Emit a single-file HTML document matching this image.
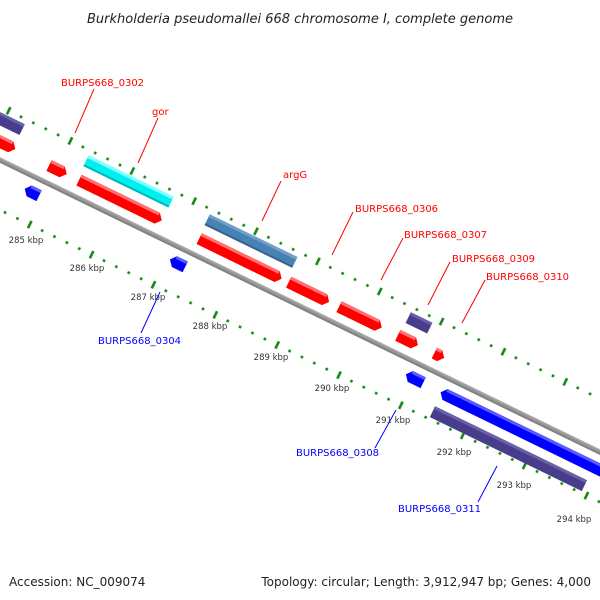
<!DOCTYPE html>
<html><head><meta charset="utf-8"><style>
html,body{margin:0;padding:0;background:#fff;}
svg{display:block;}
text{font-family:"DejaVu Sans","Liberation Sans",sans-serif;}
</style></head><body>
<svg width="600" height="600" viewBox="0 0 600 600" xmlns="http://www.w3.org/2000/svg">
<defs>
<pattern id="tkA" patternUnits="userSpaceOnUse" x="20.6" y="-52" width="68.8" height="8">
<rect x="5.6" y="2.7" width="2.6" height="2.6" fill="#118811"/>
<rect x="19.4" y="2.7" width="2.6" height="2.6" fill="#118811"/>
<rect x="33.1" y="0" width="2.6" height="8" fill="#118811"/>
<rect x="46.9" y="2.7" width="2.6" height="2.6" fill="#118811"/>
<rect x="60.6" y="2.7" width="2.6" height="2.6" fill="#118811"/>
</pattern>
<pattern id="tkB" patternUnits="userSpaceOnUse" x="20.6" y="41" width="68.8" height="8">
<rect x="5.6" y="2.7" width="2.6" height="2.6" fill="#118811"/>
<rect x="19.4" y="2.7" width="2.6" height="2.6" fill="#118811"/>
<rect x="33.1" y="0" width="2.6" height="8" fill="#118811"/>
<rect x="46.9" y="2.7" width="2.6" height="2.6" fill="#118811"/>
<rect x="60.6" y="2.7" width="2.6" height="2.6" fill="#118811"/>
</pattern>
<linearGradient id="gb" x1="0" y1="0" x2="0" y2="1"><stop offset="0" stop-color="#b0b0b0"/><stop offset="1" stop-color="#777"/></linearGradient>
</defs>
<text x="300" y="23" font-size="13" font-style="italic" text-anchor="middle" fill="#222">Burkholderia pseudomallei 668 chromosome I, complete genome</text>

<g transform="translate(0,160) rotate(25.96)">
<rect x="-60" y="-52" width="800" height="8" fill="url(#tkA)"/>
<rect x="-60" y="41" width="800" height="8" fill="url(#tkB)"/>
<rect x="-60" y="-2.6" width="800" height="5.2" fill="url(#gb)"/>

<g>
<rect x="-40" y="-43" width="46.6" height="12" fill="#483d8b"/><rect x="-40" y="-43" width="46.6" height="3" fill="#6a60a8"/>
<rect x="77.7" y="-43" width="94.5" height="12" fill="#00f0f0"/><rect x="77.7" y="-43" width="94.5" height="3" fill="#80ffff"/><rect x="77.7" y="-33" width="94.5" height="2" fill="#00b8b8"/>
<rect x="212.4" y="-43" width="97.5" height="12" fill="#4682b4"/><rect x="212.4" y="-43" width="97.5" height="3" fill="#6fa0c8"/><rect x="212.4" y="-33" width="97.5" height="2" fill="#36648c"/>
<rect x="436" y="-43" width="24" height="12" fill="#483d8b"/><rect x="436" y="-43" width="24" height="3" fill="#6a60a8"/>
</g>
<g fill="#ff0000">
<polygon points="-40,-22.5 4,-22.5 9,-16.5 4,-10.5 -40,-10.5"/>
<polygon points="46.5,-22.5 61,-22.5 66.3,-16.5 61,-10.5 46.5,-10.5"/>
<polygon points="79.8,-22.5 166.9,-22.5 171.9,-16.5 166.9,-10.5 79.8,-10.5"/>
<polygon points="213.5,-22.5 300.2,-22.5 305.2,-16.5 300.2,-10.5 213.5,-10.5"/>
<polygon points="313,-22.5 353,-22.5 358,-16.5 353,-10.5 313,-10.5"/>
<polygon points="369,-22.5 411.6,-22.5 416.6,-16.5 411.6,-10.5 369,-10.5"/>
<polygon points="434.4,-22.5 451.8,-22.5 456.8,-16.5 451.8,-10.5 434.4,-10.5"/>
<polygon points="475,-22.5 481,-22.5 486,-16.5 481,-10.5 475,-10.5"/>
</g>
<g fill="#ff7070">
<rect x="-40" y="-22.5" width="44" height="3"/>
<rect x="46.5" y="-22.5" width="14.5" height="3"/>
<rect x="79.8" y="-22.5" width="87.1" height="3"/>
<rect x="213.5" y="-22.5" width="86.7" height="3"/>
<rect x="313" y="-22.5" width="40" height="3"/>
<rect x="369" y="-22.5" width="42.6" height="3"/>
<rect x="434.4" y="-22.5" width="17.4" height="3"/>
<rect x="475" y="-22.5" width="6" height="3"/>
</g>
<g fill="#0000ff">
<polygon points="34.8,15 39.8,9 50.8,9 50.8,21 39.8,21"/>
<polygon points="196.3,15 201.3,9 213.3,9 213.3,21 201.3,21"/>
<polygon points="458.7,15 463.7,9 478,9 478,21 463.7,21"/>
<polygon points="497.8,16 502.8,10 700,10 700,22 502.8,22"/>
</g>
<g fill="#5a5aff">
<rect x="39.8" y="9" width="11" height="3"/>
<rect x="201.3" y="9" width="12" height="3"/>
<rect x="463.7" y="9" width="14.3" height="3"/>
<rect x="502.8" y="10" width="197" height="3"/>
</g>
<rect x="499" y="31" width="169" height="12" fill="#483d8b"/><rect x="499" y="31" width="169" height="3" fill="#6a60a8"/>
</g>

<g stroke="#ff0000" stroke-width="1">
<line x1="94" y1="89" x2="75" y2="133"/>
<line x1="158" y1="118" x2="138" y2="163"/>
<line x1="281" y1="181" x2="262" y2="221"/>
<line x1="353" y1="212" x2="332" y2="255"/>
<line x1="403" y1="238" x2="381" y2="280"/>
<line x1="450" y1="262" x2="428" y2="305"/>
<line x1="485" y1="280" x2="462" y2="323"/>
</g>
<g stroke="#0000ff" stroke-width="1">
<line x1="160" y1="292" x2="141" y2="333"/>
<line x1="396" y1="410" x2="375" y2="448"/>
<line x1="497" y1="466" x2="478" y2="502"/>
</g>
<g font-size="10" fill="#ff0000">
<text x="61" y="86">BURPS668_0302</text>
<text x="152" y="115">gor</text>
<text x="283" y="178">argG</text>
<text x="355" y="212">BURPS668_0306</text>
<text x="404" y="238">BURPS668_0307</text>
<text x="452" y="262">BURPS668_0309</text>
<text x="486" y="280">BURPS668_0310</text>
</g>
<g font-size="10" fill="#0000ff">
<text x="98" y="344">BURPS668_0304</text>
<text x="296" y="456">BURPS668_0308</text>
<text x="398" y="512">BURPS668_0311</text>
</g>
<g font-size="8.5" fill="#333" text-anchor="middle">
<text x="26" y="243">285 kbp</text>
<text x="87" y="271">286 kbp</text>
<text x="148" y="300">287 kbp</text>
<text x="210" y="329">288 kbp</text>
<text x="271" y="360">289 kbp</text>
<text x="332" y="391">290 kbp</text>
<text x="393" y="423">291 kbp</text>
<text x="454" y="455">292 kbp</text>
<text x="514" y="488">293 kbp</text>
<text x="574" y="522">294 kbp</text>
</g>
<text x="9" y="586" font-size="12" fill="#222">Accession: NC_009074</text>
<text x="591" y="586" font-size="12" fill="#222" text-anchor="end">Topology: circular; Length: 3,912,947 bp; Genes: 4,000</text>
</svg>
</body></html>
